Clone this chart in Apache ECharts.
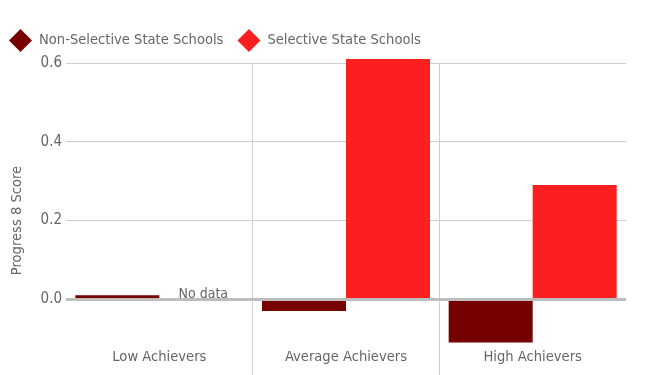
<!DOCTYPE html>
<html><head><meta charset="utf-8">
<script src="https://cdn.jsdelivr.net/npm/echarts@6/dist/echarts.min.js"></script>
<style>html,body{margin:0;padding:0;background:#fff}#c{width:653px;height:375px}</style>
</head><body><div id="c"></div>
<script>
const categories = ['Low Achievers', 'Average Achievers', 'High Achievers'];
const nonSelective = [0.01, -0.03, -0.11];
const selective = [null, 0.61, 0.29];
const seriesNames = ['Non-Selective State Schools', 'Selective State Schools'];
const yTicks = [0, 0.2, 0.4, 0.6];
const FONT = "'Liberation Sans Narrow', 'DejaVu Sans Condensed', sans-serif";

const chart = echarts.init(document.getElementById('c'));
chart.setOption({
  animation: false,
  textStyle: { fontFamily: FONT },
  legend: {
    left: 4, top: 24, itemWidth: 23, itemHeight: 23, itemGap: 14,
    icon: 'diamond',
    textStyle: { fontFamily: FONT, fontSize: 14.6, color: '#666', padding: [0,0,0,2] },
    data: seriesNames
  },
  grid: { left: 66, right: 27, top: 63, bottom: -3, containLabel: false, outerBoundsMode: 'none' },
  xAxis: {
    type: 'category', data: categories,
    offset: -36,
    axisLine: { show: false, onZero: false },
    axisTick: { show: false },
    axisLabel: { fontFamily: FONT, fontSize: 14.6, color: '#666', margin: 8 },
    splitLine: { show: true, showMinLine: false, showMaxLine: false, lineStyle: { color: '#cfcfcf', width: 1 } }
  },
  yAxis: {
    type: 'value', min: -0.2, max: 0.6, interval: 0.2,
    name: 'Progress 8 Score', nameLocation: 'middle', nameGap: 41,
    nameTextStyle: { fontFamily: FONT, fontSize: 14.6, color: '#666' },
    axisLine: { show: false },
    axisTick: { show: false },
    axisLabel: { fontFamily: FONT, fontSize: 15, color: '#666', margin: 4,
      formatter: v => (yTicks.some(t => Math.abs(t - v) < 1e-9) ? v.toFixed(1) : '') },
    splitLine: { show: true, lineStyle: { color: '#cfcfcf', width: 1 } }
  },
  series: [
    {
      name: seriesNames[0], type: 'bar', data: nonSelective,
      barWidth: 84, barGap: '0%', clip: false,
      itemStyle: { color: '#760000' },
      markLine: {
        silent: true, symbol: 'none', z: 10,
        label: { show: false },
        lineStyle: { color: '#bdbdbd', width: 3, type: 'solid' },
        data: [{ yAxis: 0 }]
      }
    },
    {
      name: seriesNames[1], type: 'bar', data: selective,
      barWidth: 84, barGap: '0%', clip: false,
      itemStyle: { color: '#fb1f1f' },
      markPoint: {
        silent: true, symbol: 'circle', symbolSize: 0,
        label: { show: true, formatter: 'No data', fontFamily: FONT, fontSize: 14, color: '#666', offset: [2, -5] },
        data: [{ coord: [categories[0], 0] }]
      }
    }
  ]
});
</script></body></html>
